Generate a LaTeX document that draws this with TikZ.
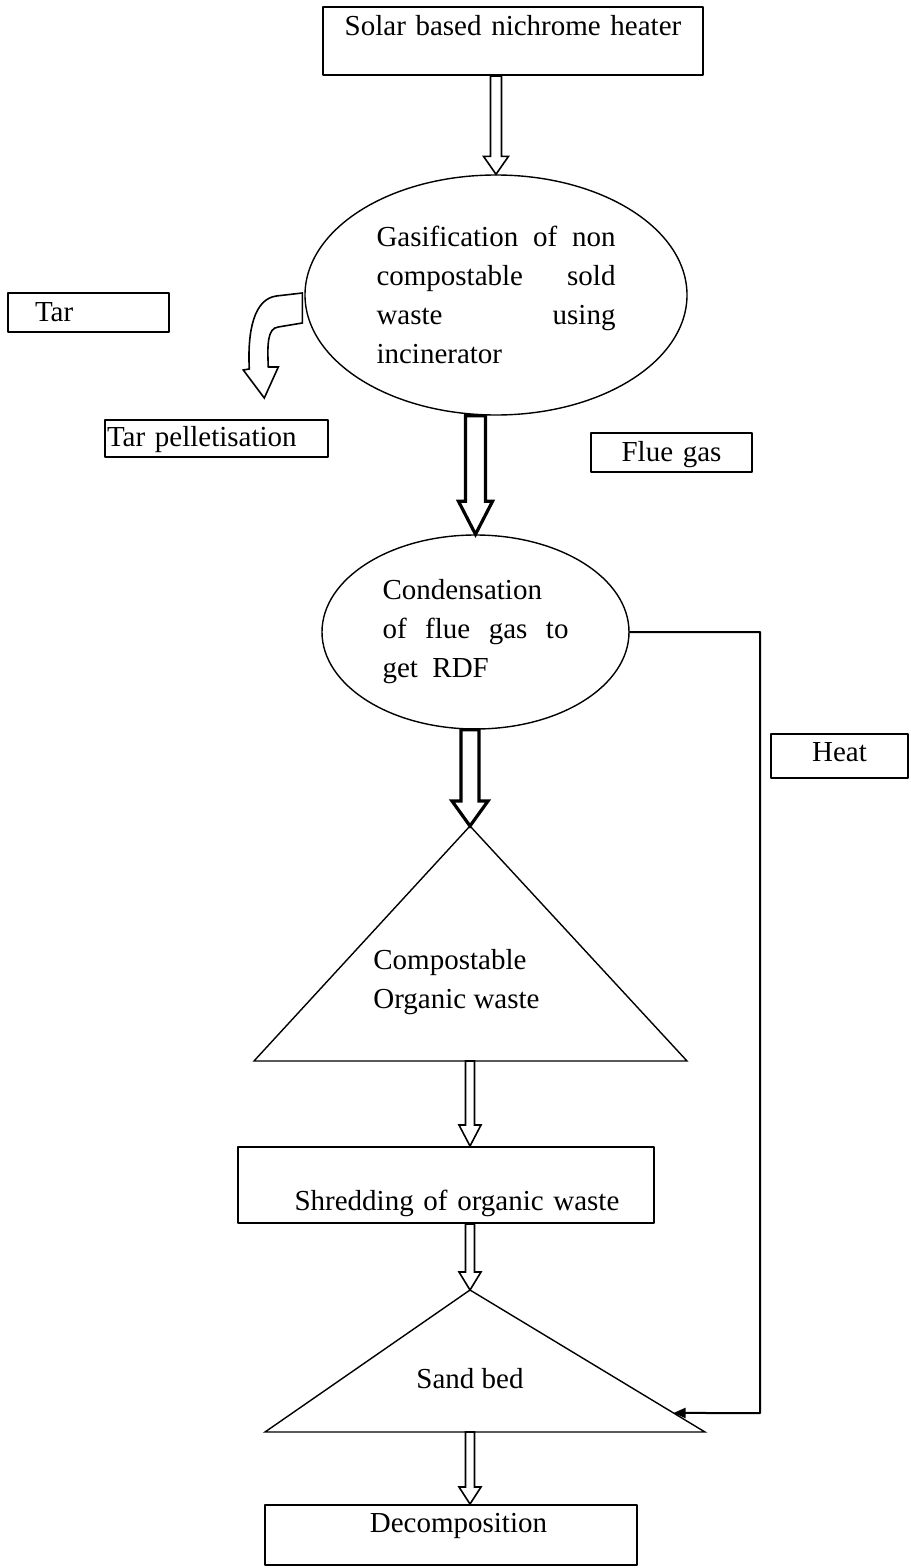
\documentclass[tikz,border=0pt]{standalone}
\usepackage{fontspec}
\setmainfont{Liberation Serif}
\usepackage{tikz}
\usetikzlibrary{arrows.meta,positioning,calc,shapes.geometric}

\tikzset{
  box/.style={draw,line width=1pt,inner sep=0pt},
  bubble/.style={draw,ellipse,line width=0.7pt,inner sep=0pt,align=justify},
  tri/.style={draw,line width=0.7pt,line join=miter},
  thinarrow/.style={draw,line width=0.8pt,line join=miter},
  thickarrow/.style={draw,line width=1.6pt,line join=miter},
}

% hollow block arrow: style, from, to, half shaft, half head, head length
\newcommand{\hollowarrow}[6]{%
  \draw[#1] let \p1=(#2), \p2=(#3) in
    (\x2-#4,\y1) -- (\x2+#4,\y1) -- (\x2+#4,\y2+#6) -- (\x2+#5,\y2+#6)
    -- (\x2,\y2) -- (\x2-#5,\y2+#6) -- (\x2-#4,\y2+#6) -- cycle;}

\begin{document}
\begin{tikzpicture}[x=0.5pt,y=-0.5pt,line cap=round,line join=round,font=\fontsize{14.5}{19.5}\selectfont]
\useasboundingbox (0,0) rectangle (910,1568);

\node[box,text width=190pt,align=center,text height=14.5pt,text depth=19.5pt] (heater) at (513,41) {Solar based nichrome heater};
\node[bubble,minimum width=191pt,minimum height=120pt,text width=119.5pt] (gasif) at (496,295) {Gasification of non\linebreak compostable sold\linebreak waste using\linebreak incinerator};
\node[box,text width=80.5pt,align=left,text height=14pt,text depth=5.5pt] (tar) at (88.5,312.5) {\hspace*{13.5pt}Tar};
\node[box,text width=111.5pt,align=left,text height=13pt,text depth=5.5pt] (pellet) at (216.5,438.5) {\hspace*{1pt}Tar pelletisation};
\node[box,text width=80.5pt,align=center,text height=14pt,text depth=5.5pt] (flue) at (671.5,452.5) {Flue gas};
\node[bubble,minimum width=153.5pt,minimum height=97pt,text width=93pt] (conden) at (475.5,632) {Condensation\linebreak of flue gas to\linebreak get~~RDF};
\node[box,text width=68.5pt,align=center,text height=13.5pt,text depth=8.5pt] (heat) at (839.5,756) {Heat};

% compostable waste
\coordinate (compostTop) at (470,826);
\coordinate (compostL) at (254,1061);
\coordinate (compostR) at (687,1061);
\draw[tri] (compostTop) -- (compostR) -- (compostL) -- cycle;
\node[anchor=west,align=left,inner sep=0pt] (compost) at (373,982) {Compostable\\Organic waste};

\node[box,text width=208pt,align=center,text height=31.5pt,text depth=6.5pt] (shred) at (446,1185) {\hspace*{11pt}Shredding of organic waste};

% sand bed
\coordinate (sandTop) at (470,1290);
\coordinate (sandL) at (265,1432);
\coordinate (sandR) at (705,1432);
\draw[tri] (sandTop) -- (sandR) -- (sandL) -- cycle;
\node[anchor=base] (sand) at (470,1388) {Sand bed};

\node[box,text width=186pt,align=center,text height=13.5pt,text depth=16.5pt] (decomp) at (451,1535) {\hspace*{7.5pt}Decomposition};

% block arrows
\hollowarrow{thinarrow}{heater.south}{gasif.north}{2.75pt}{6.25pt}{9pt}
\hollowarrow{thickarrow}{gasif.south}{conden.north}{5pt}{8.5pt}{16.5pt}
\hollowarrow{thickarrow}{conden.south}{compostTop}{4.5pt}{9pt}{12.5pt}
\hollowarrow{thinarrow}{compostL}{compostTop |- shred.north}{2.25pt}{5.5pt}{10.5pt}
\hollowarrow{thinarrow}{shred.south}{sandTop}{2.25pt}{5.5pt}{9pt}
\hollowarrow{thinarrow}{sandL}{sandTop |- decomp.north}{2.25pt}{5.5pt}{8.5pt}

% tar outlet
\draw[thinarrow,shift={(gasif.west)}] (-2,-2) -- (-28,1) .. controls (-50,4) and (-57,35) .. (-55,74)
  -- (-61,75) -- (-40,103) -- (-26,72) -- (-36,72) .. controls (-37,50) and (-37,33) .. (-26,32)
  -- (-2,28) -- cycle;

% heat return
\coordinate (heatRun) at (760,1413);
\coordinate (sandHeat) at ($(sandTop)!0.866!(sandR)$);
\draw[line width=1pt,-{Triangle[length=6pt,width=5pt]}] (conden.east) -| (heatRun) -- (sandHeat);
\end{tikzpicture}
\end{document}
